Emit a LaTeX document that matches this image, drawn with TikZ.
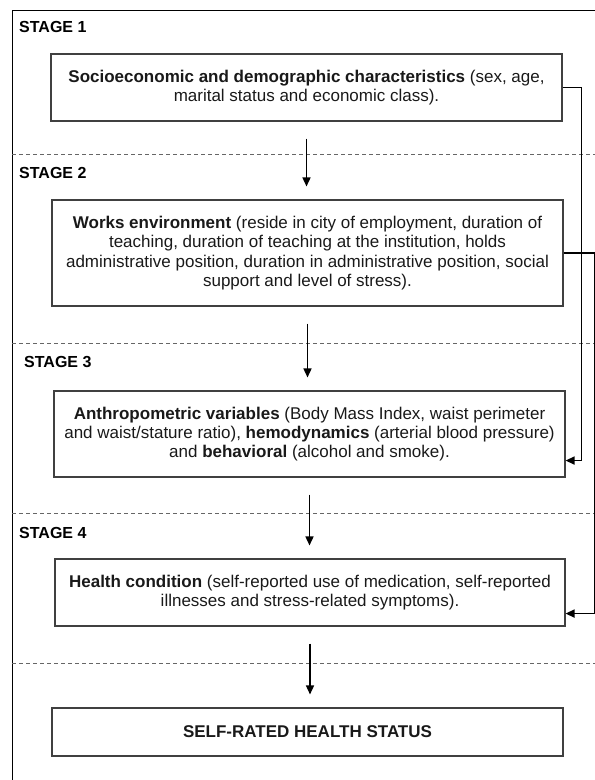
\documentclass[tikz,border=0pt]{standalone}
\usepackage{fontspec}
\setmainfont{Liberation Sans}
\usetikzlibrary{arrows.meta,calc}
\newcommand\stagecut[1]{%
  \draw[cut] (12,#1) -- (595,#1);
}
\newcommand\stagelabel[3]{%
  \node[stage] (#1) at (#2) {STAGE #3};
}

\begin{document}
\begin{tikzpicture}
[x=1pt, y=-1pt,
 stage/.style={anchor=west, inner sep=0, font=\bfseries\fontsize{16}{19}\selectfont},
 box/.style={draw=black!75, line width=1.1pt, align=center, inner sep=0,
             minimum width=511pt, text=black!90, font=\fontsize{17}{19.4}\selectfont},
 cut/.style={dash pattern=on 4pt off 3pt, draw=black!60, line width=0.9pt},
 flow/.style={line width=1.5pt, -{Triangle[length=9pt,width=8pt]},
              shorten <=17pt, shorten >=13pt},
 feed/.style={line width=1.5pt, -{Triangle[length=9pt,width=8pt]}}]
\useasboundingbox (0,0) rectangle (595,780);
\draw[line width=1pt] (595,10) -- (12,10) -- (12,780);
% stages
\stagelabel{s1}{19,27}{1}
\stagelabel{s2}{19,173}{2}
\stagelabel{s3}{24,362}{3}
\stagelabel{s4}{19,533}{4}
\stagecut{154}
\stagecut{343}
\stagecut{513}
\stagecut{663}
% boxes
\node[box, minimum height=67pt] (socio) at (306.5,87.5)
  {\textbf{Socioeconomic and demographic characteristics} (sex, age,\\
   marital status and economic class).};
\node[box, minimum height=106pt] (work) at (307.5,253)
  {\textbf{Works environment} (reside in city of employment, duration of\\
   teaching, duration of teaching at the institution, holds\\
   administrative position, duration in administrative position, social\\
   support and level of stress).};
\node[box, minimum height=86pt] (anthro) at (309.5,434)
  {\textbf{Anthropometric variables} (Body Mass Index, waist perimeter\\
   and waist/stature ratio), \textbf{hemodynamics} (arterial blood pressure)\\
   and \textbf{behavioral} (alcohol and smoke).};
\node[box, minimum height=67pt, minimum width=510pt] (health) at (310,592.5)
  {\textbf{Health condition} (self-reported use of medication, self-reported\\
   illnesses and stress-related symptoms).};
\node[box, minimum height=48pt] (srh) at (307.5,732)
  {\textbf{SELF-RATED HEALTH STATUS}};
% arrows
\foreach \a/\b in {socio/work, work/anthro, anthro/health, health/srh}
  \draw[flow] (\a.south) -- (\a.south |- \b.north);
\draw[feed] (socio.east) -- ++(19,0) |- ([yshift=17pt]anthro.south east);
\draw[feed] (work.east) -- ++(31,0) |- ([yshift=13pt]health.south east);
\end{tikzpicture}
\end{document}
